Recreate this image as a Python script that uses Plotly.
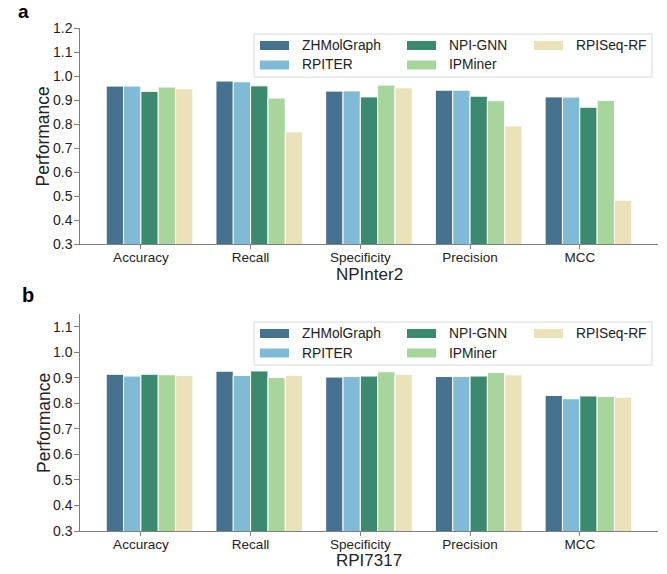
import plotly.graph_objects as go

categories = ["Accuracy", "Recall", "Specificity", "Precision", "MCC"]
methods = ["ZHMolGraph", "RPITER", "NPI-GNN", "IPMiner", "RPISeq-RF"]
colors = ["#46728f", "#7fbad6", "#3b896e", "#a8d59c", "#ece2b9"]

# Panel a: NPInter2
npinter2_zhmolgraph = [0.958, 0.979, 0.937, 0.941, 0.913]
npinter2_rpiter = [0.958, 0.976, 0.938, 0.941, 0.912]
npinter2_npignn = [0.936, 0.959, 0.913, 0.916, 0.870]
npinter2_ipminer = [0.954, 0.908, 0.962, 0.897, 0.898]
npinter2_rpiseq = [0.947, 0.767, 0.951, 0.792, 0.482]

# Panel b: RPI7317
rpi7317_zhmolgraph = [0.914, 0.926, 0.903, 0.905, 0.831]
rpi7317_rpiter = [0.907, 0.909, 0.905, 0.905, 0.818]
rpi7317_npignn = [0.914, 0.927, 0.907, 0.907, 0.829]
rpi7317_ipminer = [0.912, 0.901, 0.924, 0.921, 0.827]
rpi7317_rpiseq = [0.910, 0.910, 0.914, 0.912, 0.824]

panel_a = [npinter2_zhmolgraph, npinter2_rpiter, npinter2_npignn, npinter2_ipminer, npinter2_rpiseq]
panel_b = [rpi7317_zhmolgraph, rpi7317_rpiter, rpi7317_npignn, rpi7317_ipminer, rpi7317_rpiseq]

W, H = 667, 574
def px(x):
    return x / W
def py(y):
    return 1 - y / H

FONT = "Liberation Sans, Arial, sans-serif"
bw = 0.158

fig = go.Figure()
for panel, (xa, ya) in zip([panel_a, panel_b], [("x", "y"), ("x2", "y2")]):
    for j, (name, vals) in enumerate(zip(methods, panel)):
        fig.add_trace(go.Bar(
            x=categories, y=vals, name=name, xaxis=xa, yaxis=ya,
            width=bw, offset=(j - 2) * bw,
            marker=dict(color=colors[j], line=dict(color="white", width=1)),
            showlegend=False,
        ))

axis_common = dict(
    showline=True, linecolor="#7f7f7f", linewidth=1.3, showgrid=False, zeroline=False,
    ticks="outside", tickcolor="#7f7f7f", tickwidth=1.2, automargin=False,
)
xaxis_common = dict(axis_common, ticklen=3.5, ticklabelstandoff=-3,
                    tickfont=dict(family=FONT, size=13.5, color="#222"),
                    type="category", range=[-0.555, 4.713], domain=[px(80), px(658)])
yaxis_common = dict(axis_common, ticklen=4.5, ticklabelstandoff=-1,
                    tickfont=dict(family=FONT, size=14, color="#222"),
                    dtick=0.1, tick0=0.3, tickformat=".1f")

fig.update_layout(
    width=W, height=H, margin=dict(l=0, r=0, t=0, b=0, autoexpand=False),
    paper_bgcolor="white", plot_bgcolor="white", barmode="overlay",
    xaxis=dict(anchor="y", **xaxis_common),
    yaxis=dict(domain=[py(244), py(28)], anchor="x", range=[0.3, 1.2], **yaxis_common),
    xaxis2=dict(anchor="y2", **xaxis_common),
    yaxis2=dict(domain=[py(531), py(314)], anchor="x2", range=[0.3, 1.15], **yaxis_common),
)

shapes = []
annotations = []
title_font = dict(family=FONT, size=17, color="#222")
for text, y in [("NPInter2", 274.8), ("RPI7317", 560.5)]:
    annotations.append(dict(text=text, xref="paper", yref="paper", x=px(369), y=py(y),
                            xanchor="center", yanchor="middle", showarrow=False, font=title_font))
for y in [136, 422.5]:
    annotations.append(dict(text="Performance", xref="paper", yref="paper", x=px(43.4), y=py(y),
                            xanchor="center", yanchor="middle", textangle=-90, showarrow=False,
                            font=dict(family=FONT, size=17.5, color="#222")))

# legend placements (pixel coords) for each panel
leg_cols = [(260, 300), (407, 447), (534, 574)]
for dy in [0, 288]:
    shapes.append(dict(type="rect", xref="paper", yref="paper",
                       x0=px(254), x1=px(652), y0=py(34 + dy), y1=py(77 + dy),
                       line=dict(color="#d8d8d8", width=1), fillcolor="rgba(255,255,255,0.9)", layer="above"))
    for j, name in enumerate(methods):
        col, row = j // 2, j % 2
        sx, tx = leg_cols[col]
        cy = (45.5 if row == 0 else 65) + dy
        shapes.append(dict(type="rect", xref="paper", yref="paper",
                           x0=px(sx), x1=px(sx + 29), y0=py(cy + 4.5), y1=py(cy - 4.5),
                           line=dict(width=0), fillcolor=colors[j], layer="above"))
        annotations.append(dict(text=name, xref="paper", yref="paper", x=px(tx), y=py(cy),
                                xanchor="left", yanchor="middle", showarrow=False,
                                font=dict(family=FONT, size=13.8, color="#222")))

annotations.append(dict(text="<b>a</b>", xref="paper", yref="paper", x=px(23.5), y=py(11.5),
                        xanchor="center", yanchor="middle", showarrow=False,
                        font=dict(family=FONT, size=19, color="#000")))
annotations.append(dict(text="<b>b</b>", xref="paper", yref="paper", x=px(27.5), y=py(295),
                        xanchor="center", yanchor="middle", showarrow=False,
                        font=dict(family=FONT, size=20, color="#000")))

fig.update_layout(shapes=shapes, annotations=annotations)
# remove the default 8px page margin so the figure fills the window exactly
fig.write_html("out.html", config={"displayModeBar": False},
               post_script="document.body.style.margin='0px';")
